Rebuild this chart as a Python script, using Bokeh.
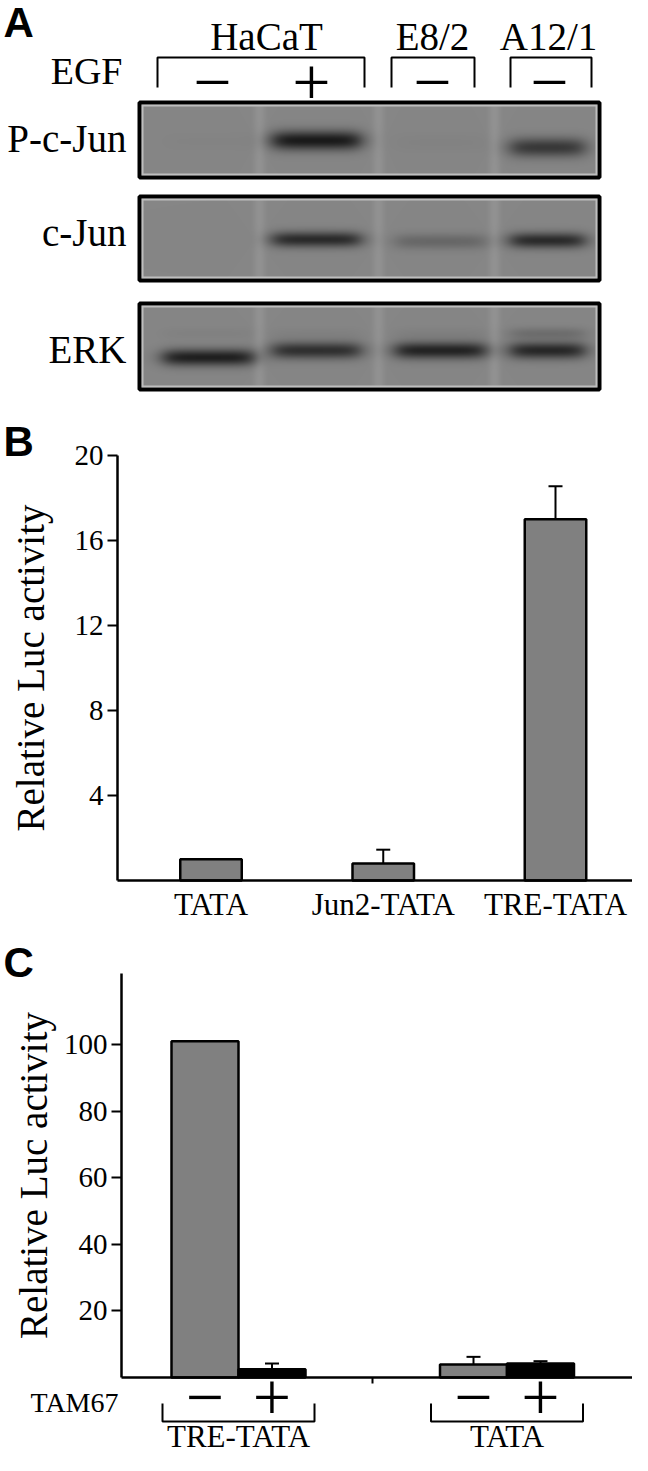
import numpy as np
from bokeh.plotting import figure
from bokeh.models import Range1d, FixedTicker
from bokeh.layouts import column
from bokeh.core.properties import value
from bokeh.embed import file_html
from bokeh.resources import INLINE

# ---------------- data ----------------
# Panel A (western blot, relative band intensities 0..1 per lane)
cell_lines = ["HaCaT", "E8/2", "A12/1"]
egf = ["\u2212", "+", "\u2212", "\u2212"]
proteins = ["P-c-Jun", "c-Jun", "ERK"]
band_pcjun = [0.02, 1.00, 0.03, 0.72]
band_cjun = [0.00, 0.85, 0.28, 0.85]
band_erk = [0.95, 0.80, 0.92, 0.88]
band_erk_upper = [0.04, 0.04, 0.05, 0.22]

# Panel B
b_constructs = ["TATA", "Jun2-TATA", "TRE-TATA"]
b_values = [1.0, 0.8, 17.0]
b_errors = [0.0, 0.65, 1.55]
b_yticks = [4, 8, 12, 16, 20]
b_ymax = 20

# Panel C
c_groups = ["TRE-TATA", "TATA"]
c_tam67 = ["\u2212", "+"]
c_minus = [101.0, 3.9]
c_plus = [2.5, 4.2]
c_minus_err = [0.0, 2.3]
c_plus_err = [1.7, 0.7]
c_yticks = [20, 40, 60, 80, 100]
c_ymax = 121.3

# ---------------- layout / style ----------------
SERIF = "Liberation Serif"
SANS = "Liberation Sans"
W = 632
LEFT, RIGHT = 0, 632
A_TOP, A_BOT = 0, 400
B_TOP, B_BOT = 400, 925
C_TOP, C_BOT = 925, 1455
BASE_FIX = 0.34   # baseline correction (fraction of font size)


def base_fig(h, xr, yr, **kw):
    p = figure(width=W, height=h, x_range=xr, y_range=yr, output_backend="svg",
               toolbar_location=None, tools="", min_border=0, **kw)
    p.outline_line_color = None
    p.background_fill_color = "white"
    p.border_fill_color = "white"
    p.xgrid.visible = False
    p.ygrid.visible = False
    return p


def text(p, x, py, conv, t, size, font=SERIF, align="center", bold=False):
    """py: pixel baseline positions on the page; conv: page-y -> data-y."""
    ys = [conv(v - BASE_FIX * size) for v in py]
    p.text(x=x, y=ys, text=t, text_font=value(font), text_font_size=f"{size}px",
           text_font_style="bold" if bold else "normal", text_align=align,
           text_baseline="alphabetic", text_color="black")


# ======================= Panel A =======================
pA = base_fig(A_BOT - A_TOP, Range1d(LEFT, RIGHT), Range1d(-A_BOT, -A_TOP),
              x_axis_location=None, y_axis_location=None)


def ay(py):
    return -py


BOX_L, BOX_R = 137, 601
ROWS = [(100, 179), (194, 282), (301, 391)]
BAND_CX = [208, 316, 440, 547]
BAND_HW = [45, 44, 45, 37]
ROW_YC = [[141, 140, 142, 147], [240, 239, 241, 240], [357, 350, 350, 350]]
ROW_TH = [16, 13, 14]
SEPS = [259, 378, 494]
bands = [band_pcjun, band_cjun, band_erk]

for r, (top, bot) in enumerate(ROWS):
    x0, x1 = BOX_L + 4, BOX_R - 4
    y0, y1 = top + 4, bot - 4
    xs = np.arange(x0, x1) + 0.5
    ys = np.arange(y0, y1) + 0.5
    X, Y = np.meshgrid(xs, ys)
    img = np.full(X.shape, 134.0)
    for s in SEPS:
        img += 12 * np.exp(-((X - s) / 6.0) ** 2)

    def band(I, cx, hw, yc, th):
        fx = 1.0 / (1 + np.exp(-(X - (cx - hw)) / 5.5)) / (1 + np.exp((X - (cx + hw)) / 5.5))
        fy = np.exp(-0.5 * ((Y - yc) / (th / 2.355)) ** 2)
        return I * fx * fy

    for lane in range(4):
        f = band(bands[r][lane], BAND_CX[lane], BAND_HW[lane], ROW_YC[r][lane], ROW_TH[r])
        img = img - (img - 26) * f
    if r == 2:
        for lane in range(4):
            f = band(band_erk_upper[lane], BAND_CX[lane], BAND_HW[lane], 333, 10)
            img = img - (img - 26) * f
    img[:2, :] = 190
    img[-2:, :] = 190
    img[:, :2] = 190
    img[:, -2:] = 190
    v = np.clip(img, 0, 255).astype(np.uint32)
    rgba = np.uint32(0xFF000000) | (v << np.uint32(16)) | (v << np.uint32(8)) | v
    rgba = np.ascontiguousarray(np.flipud(rgba))
    pA.image_rgba(image=[rgba], x=x0, y=-y1, dw=x1 - x0, dh=y1 - y0)
    pA.quad(left=BOX_L + 2, right=BOX_R - 2, top=-(top + 2), bottom=-(bot - 2),
            fill_color=None, line_color="black", line_width=4)

text(pA, [3], [36], ay, ["A"], 42, font=SANS, align="left", bold=True)
CELL_X = [266, 432, 548]
text(pA, CELL_X, [49] * 3, ay, cell_lines, 39)
text(pA, [122], [83], ay, ["EGF"], 38, align="right")
BRACKETS_A = [(157, 364), (391, 474), (510, 591)]
pA.multi_line(xs=[[l, l, r, r] for l, r in BRACKETS_A], ys=[[-87, -57, -57, -87]] * 3,
              line_width=2, line_color="black")
SIGN_X = [212, 311, 432, 549]
text(pA, SIGN_X, [106] * 4, ay, egf, 68)
text(pA, [126] * 3, [151, 245, 362], ay, proteins, 39, align="right")

# ======================= Panel B =======================
KXB, X0B = 172.25, 210.5
KYB, Y0B = 21.25, 880.0


def bx(px):
    return (px - X0B) / KXB


def by(py):
    return (Y0B - py) / KYB


pB = base_fig(B_BOT - B_TOP, Range1d(bx(LEFT), bx(RIGHT)), Range1d(by(B_BOT), by(B_TOP)))
bi = list(range(len(b_constructs)))
pB.vbar(x=bi, top=b_values, bottom=0, width=61.5 / KXB, fill_color="#808080",
        line_color="black", line_width=2.5)
ei = [i for i in bi if b_errors[i] > 0]
pB.segment(x0=ei, y0=[b_values[i] for i in ei], x1=ei,
           y1=[b_values[i] + b_errors[i] for i in ei], line_color="black", line_width=2)
pB.scatter(x=ei, y=[b_values[i] + b_errors[i] for i in ei], marker="dash", size=14,
           line_color="black", line_width=2)


def style_axes(yax, xax):
    for ax in (yax, xax):
        ax.axis_line_width = 2.5
        ax.axis_line_color = "black"
        ax.major_tick_line_width = 2
        ax.major_tick_line_color = "black"
        ax.major_tick_in = 0
        ax.minor_tick_in = 0
        ax.minor_tick_out = 0
        ax.major_label_text_font = SERIF
        ax.major_label_text_color = "black"
    yax.major_tick_out = 10
    yax.major_label_standoff = 4
    yax.major_label_text_font_size = "29px"
    yax.axis_label = "Relative Luc activity"
    yax.axis_label_text_font = SERIF
    yax.axis_label_text_font_size = "39px"
    yax.axis_label_text_font_style = "normal"
    yax.axis_label_text_color = "black"


yB = pB.yaxis[0]
xB = pB.xaxis[0]
style_axes(yB, xB)
yB.fixed_location = bx(117)
yB.bounds = (0, b_ymax)
yB.ticker = FixedTicker(ticks=b_yticks)
yB.axis_label_standoff = 20
xB.fixed_location = 0
xB.bounds = (bx(117), bx(633))
xB.ticker = FixedTicker(ticks=bi)
xB.major_label_overrides = {i: c for i, c in zip(bi, b_constructs)}
xB.major_tick_out = 0
xB.major_label_standoff = 6
xB.major_label_text_font_size = "31px"
text(pB, [bx(3)], [455], by, ["B"], 42, font=SANS, align="left", bold=True)

# ======================= Panel C =======================
KXC, X0C = 268.5, 238.0
KYC, Y0C = 3.33, 1377.0


def cx(px):
    return (px - X0C) / KXC


def cy(py):
    return (Y0C - py) / KYC


pC = base_fig(C_BOT - C_TOP, Range1d(cx(LEFT), cx(RIGHT)), Range1d(cy(C_BOT), cy(C_TOP)))
gi = list(range(len(c_groups)))
bw = 67 / KXC
xm = [g - bw / 2 for g in gi]
xp = [g + bw / 2 for g in gi]
pC.vbar(x=xm, top=c_minus, bottom=0, width=bw, fill_color="#808080",
        line_color="black", line_width=2.5)
pC.vbar(x=xp, top=c_plus, bottom=0, width=bw, fill_color="black",
        line_color="black", line_width=2.5)
ex, ey0, ey1 = [], [], []
for xs_, vals, errs in ((xm, c_minus, c_minus_err), (xp, c_plus, c_plus_err)):
    for x_, v_, e_ in zip(xs_, vals, errs):
        if e_ > 0:
            ex.append(x_)
            ey0.append(v_)
            ey1.append(v_ + e_)
pC.segment(x0=ex, y0=ey0, x1=ex, y1=ey1, line_color="black", line_width=2)
pC.scatter(x=ex, y=ey1, marker="dash", size=14, line_color="black", line_width=2)

yC = pC.yaxis[0]
xC = pC.xaxis[0]
style_axes(yC, xC)
yC.fixed_location = cx(121)
yC.bounds = (0, c_ymax)
yC.ticker = FixedTicker(ticks=c_yticks)
yC.axis_label_standoff = 6
xC.fixed_location = 0
xC.bounds = (cx(121), cx(643))
xC.ticker = FixedTicker(ticks=[0.5])
xC.major_tick_out = 6
xC.major_label_text_color = None

text(pC, [cx(3)], [976], cy, ["C"], 42, font=SANS, align="left", bold=True)
text(pC, [cx(118)], [1412], cy, ["TAM67"], 28, align="right")
signs_x = []
signs_t = []
for g in gi:
    signs_x += [xm[g], xp[g]]
    signs_t += c_tam67
text(pC, signs_x, [1421] * len(signs_x), cy, signs_t, 68)
hw = 76 / KXC
pC.multi_line(xs=[[g - hw, g - hw, g + hw, g + hw] for g in gi],
              ys=[[cy(1403), cy(1421), cy(1421), cy(1403)]] * len(gi),
              line_width=2, line_color="black")
text(pC, gi, [1447] * len(gi), cy, c_groups, 31)

layout = column(pA, pB, pC)
open("out.html", "w").write(file_html(layout, INLINE))
